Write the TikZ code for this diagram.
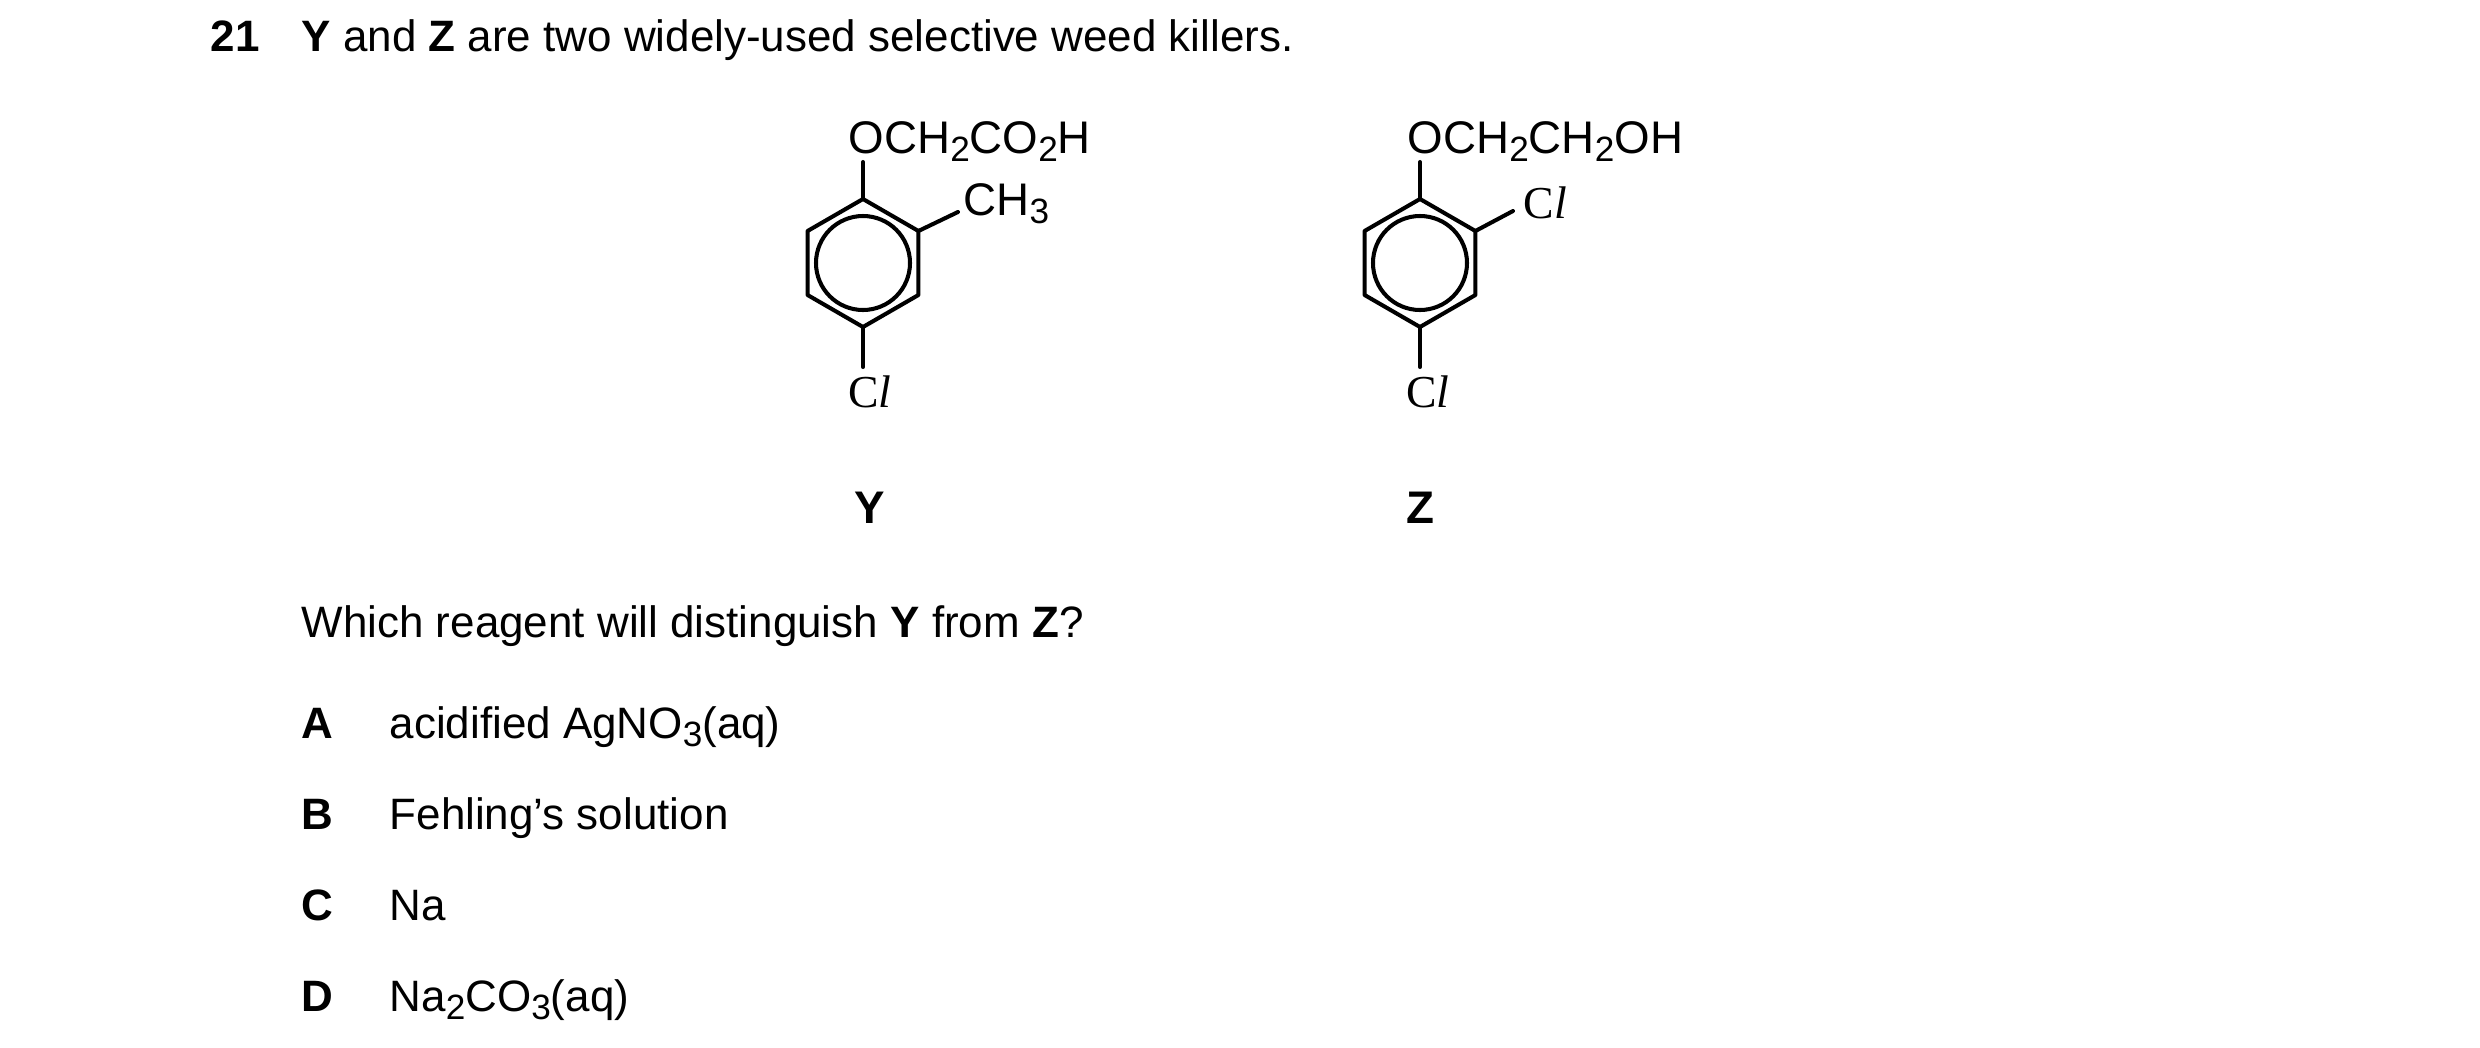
\documentclass[tikz,border=0pt]{standalone}
\usepackage{fontspec}
\setmainfont{Liberation Sans}
\newfontfamily\clfont{Liberation Serif}
\usetikzlibrary{positioning,calc}

\newcommand{\sbs}[1]{\raisebox{-0.35ex}{\fontsize{10pt}{10pt}\selectfont #1}}
\newcommand{\chl}{{\clfont C\textit{l}}}

\tikzset{
  txt/.style={anchor=base west, inner sep=0pt, font=\fontsize{12.5pt}{15pt}\selectfont},
  grp/.style={anchor=base west, inner sep=0pt, font=\fontsize{13pt}{15pt}\selectfont},
  lbl/.style={anchor=base, inner sep=0pt, font=\fontsize{13pt}{15pt}\selectfont\bfseries},
  bond/.style={line width=1.15pt, line cap=round, line join=round}
}

\begin{document}
\begin{tikzpicture}[x=0.01cm,y=-0.01cm]
  \useasboundingbox (0,0) rectangle (2480,1048);

  % question
  \node[txt] (num) at (210,51) {\textbf{21}};
  \node[txt] (stem) at (301,51) {\textbf{Y} and \textbf{Z} are two widely-used selective weed killers.};

  % molecule Y
  \coordinate (ya) at (863,263);
  \foreach \k in {0,...,5}
    \coordinate (y\k) at ($(ya)+({90+60*\k}:64 and -64)$);
  \draw[bond] (y0) -- (y1) -- (y2) -- (y3) -- (y4) -- (y5) -- cycle;
  \draw[bond] (ya) circle (47);
  \node[grp] (yo) at (848,153) {OCH\sbs{2}CO\sbs{2}H};
  \node[grp] (ych) at (963,215) {CH\sbs{3}};
  \node[grp,anchor=base] (ycl) at (870,407) {\chl};
  \coordinate (yot) at (863,162);
  \coordinate (ycb) at (958,212);
  \coordinate (yclt) at (863,367);
  \draw[bond] (y0) -- (yot);
  \draw[bond] (y5) -- (ycb);
  \draw[bond] (y3) -- (yclt);
  \node[lbl] (ylab) at (870,523) {Y};

  % molecule Z
  \coordinate (za) at (1420,263);
  \foreach \k in {0,...,5}
    \coordinate (z\k) at ($(za)+({90+60*\k}:64 and -64)$);
  \draw[bond] (z0) -- (z1) -- (z2) -- (z3) -- (z4) -- (z5) -- cycle;
  \draw[bond] (za) circle (47);
  \node[grp] (zo) at (1407,153) {OCH\sbs{2}CH\sbs{2}OH};
  \node[grp] (zcl2) at (1523,218) {\chl};
  \node[grp,anchor=base] (zcl) at (1428,407) {\chl};
  \coordinate (zot) at (1420,162);
  \coordinate (zcb) at (1513,211);
  \coordinate (zclt) at (1420,367);
  \draw[bond] (z0) -- (zot);
  \draw[bond] (z5) -- (zcb);
  \draw[bond] (z3) -- (zclt);
  \node[lbl] (zlab) at (1420,523) {Z};

  % options
  \node[txt] (ask) at (301,637) {Which reagent will distinguish \textbf{Y} from \textbf{Z}?};
  \foreach \l/\t/\yy in {A/acidified AgNO\sbs{3}(aq)/738, B/Fehling’s solution/829, C/Na/920, D/Na\sbs{2}CO\sbs{3}(aq)/1011} {
    \node[txt] (opt\l) at (301,\yy) {\textbf{\l}};
    \node[txt] (ans\l) at (389,\yy) {\t};
  }
\end{tikzpicture}
\end{document}
